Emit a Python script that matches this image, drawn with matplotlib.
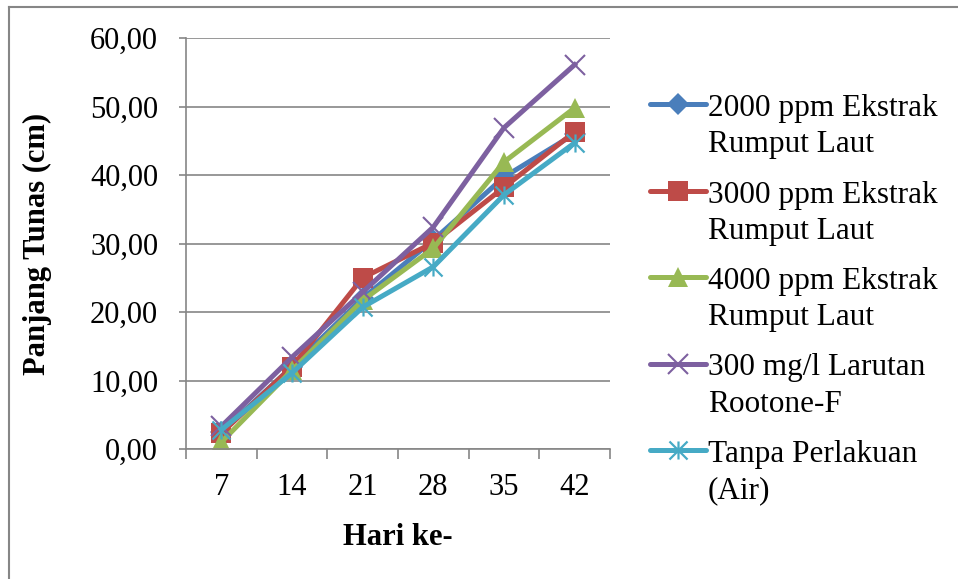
import matplotlib
matplotlib.use("Agg")
import matplotlib.pyplot as plt
from matplotlib.lines import Line2D
from matplotlib.path import Path
from matplotlib.ticker import FuncFormatter, MultipleLocator

plt.rcParams["font.family"] = ["Liberation Serif", "DejaVu Serif"]

# data
days = ["7", "14", "21", "28", "35", "42"]
ppm_2000 = [2.5, 12.0, 22.0, 30.5, 39.7, 46.0]
ppm_3000 = [2.3, 12.0, 25.0, 30.1, 38.2, 46.3]
ppm_4000 = [1.0, 11.5, 21.7, 29.3, 41.9, 49.8]
rootone = [3.3, 13.4, 22.9, 32.4, 46.9, 56.1]
tanpa = [2.8, 11.1, 20.7, 26.6, 37.1, 44.7]

labels = [
    "2000 ppm Ekstrak\nRumput Laut",
    "3000 ppm Ekstrak\nRumput Laut",
    "4000 ppm Ekstrak\nRumput Laut",
    "300 mg/l Larutan\nRootone-F",
    "Tanpa Perlakuan\n(Air)",
]

# asterisk marker like excel's "star"
star = Path(
    [(-1, -1), (1, 1), (-1, 1), (1, -1), (0, -1), (0, 1)],
    [Path.MOVETO, Path.LINETO, Path.MOVETO, Path.LINETO, Path.MOVETO, Path.LINETO],
)

styles = [
    dict(color="#4A7EBB", marker="D", ms=11, mew=0),
    dict(color="#BE4B48", marker="s", ms=14, mew=0),
    dict(color="#98B954", marker="^", ms=15, mew=0),
    dict(color="#7D60A0", marker="x", ms=15, mew=1.5),
    dict(color="#46AAC5", marker=star, ms=13, mew=1.6),
]
series = [ppm_2000, ppm_3000, ppm_4000, rootone, tanpa]

W, H = 958, 579
FS = 22

fig = plt.figure(figsize=(W / 100, H / 100), dpi=100)
ax = fig.add_axes([186 / W, 1 - 449 / H, 424 / W, 411 / H])

x = list(range(len(days)))
for vals, st in zip(series, styles):
    ax.plot(x, vals, color=st["color"], lw=3.6, marker=st["marker"], ms=st["ms"],
            mew=st["mew"], mec=st["color"], mfc=st["color"], solid_joinstyle="round")

ax.set_xlim(-0.5, len(days) - 0.5)
ax.set_ylim(0, 60)
ax.yaxis.set_major_locator(MultipleLocator(10))
ax.yaxis.set_major_formatter(FuncFormatter(lambda v, p: f"{v:.2f}".replace(".", ",")))
ax.set_xticks(x)
ax.set_xticklabels(days)
ax.set_xticks([i - 0.5 for i in range(len(days) + 1)], minor=True)
ax.tick_params(axis="x", which="major", length=0, labelsize=FS, pad=17)
ax.tick_params(axis="x", which="minor", length=7, color="#868686", width=1.2)
ax.tick_params(axis="y", length=5, color="#868686", width=1.2, labelsize=FS, pad=15)

ax.grid(axis="y", color="#868686", lw=1.2)
ax.set_axisbelow(True)
for side in ["top", "right"]:
    ax.spines[side].set_visible(False)
for side in ["left", "bottom"]:
    ax.spines[side].set_color("#868686")
    ax.spines[side].set_linewidth(1.2)

ax.set_xlabel("Hari ke-", fontsize=FS, fontweight="bold")
ax.xaxis.set_label_coords((398 - 186) / 424, -0.18)
ax.set_ylabel("Panjang Tunas (cm)", fontsize=FS, fontweight="bold")
ax.yaxis.set_label_coords((52 - 186) / 424, 0.5)

# legend drawn by hand so the marker sits on the first line of each label
for i, (lab, st) in enumerate(zip(labels, styles)):
    yp = 1 - (104 + i * 86.5) / H
    fig.add_artist(Line2D([650 / W, 706 / W], [yp, yp], color=st["color"], lw=3.6,
                          solid_capstyle="round"))
    fig.add_artist(Line2D([678 / W], [yp], color=st["color"], marker=st["marker"],
                          ms=st["ms"], mew=st["mew"], mec=st["color"], mfc=st["color"]))
    fig.text(708 / W, yp + 10 / H, lab, fontsize=22.5, va="top", ha="left",
             linespacing=1.32)

# chart frame, cropped on the right and bottom like the source image
fig.add_artist(Line2D([9 / W, 9 / W], [0, 1 - 7 / H], color="#868686", lw=1.5))
fig.add_artist(Line2D([9 / W, 1], [1 - 7 / H, 1 - 7 / H], color="#868686", lw=1.5))

fig.savefig("out.png", dpi=100)
